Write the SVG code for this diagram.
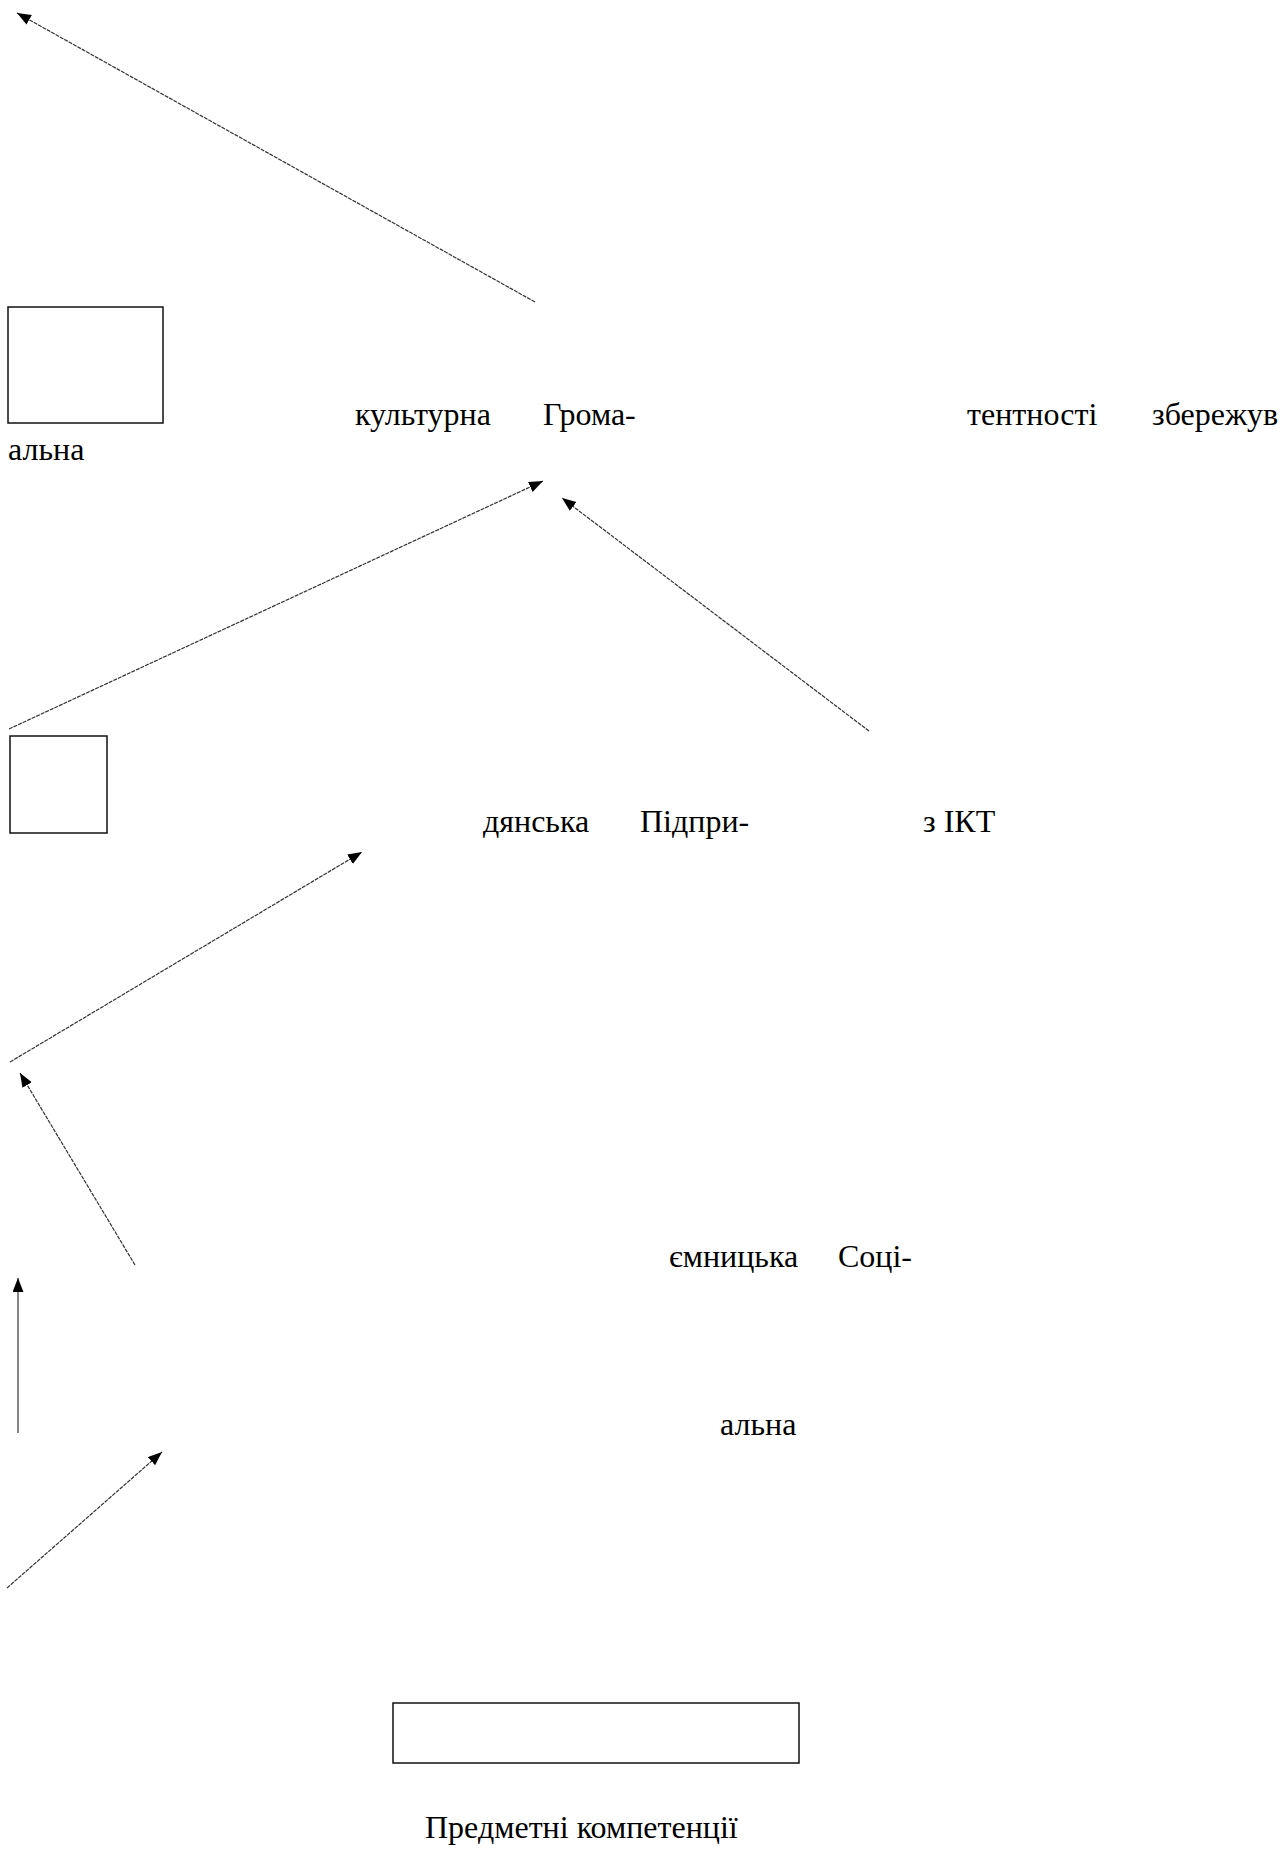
<svg xmlns="http://www.w3.org/2000/svg" width="1287" height="1854" viewBox="0 0 1287 1854">
<style>
.box{fill:#fff;stroke:#111;stroke-width:1.5}
.lbl{font-family:"Liberation Serif","Times New Roman",serif;font-size:32px;fill:#000}
.con{stroke:#333;stroke-width:1.2;stroke-dasharray:4 1;fill:none;marker-end:url(#ah)}
.solid{stroke-dasharray:none}
</style>
<defs>
<marker id="ah" markerUnits="userSpaceOnUse" markerWidth="15" markerHeight="12" refX="14" refY="5.5" orient="auto">
<path d="M0,0 L14,5.5 L0,11 z" fill="#000"/>
</marker>
</defs>
<rect width="1287" height="1854" fill="#fff"/>
<g id="connectors">
<line class="con" x1="535" y1="302" x2="17" y2="13"/>
<line class="con" x1="9" y1="729" x2="543" y2="481"/>
<line class="con" x1="869" y1="731" x2="562" y2="498"/>
<line class="con" x1="10" y1="1062" x2="362" y2="852"/>
<line class="con" x1="135" y1="1265" x2="20" y2="1073"/>
<line class="con solid" x1="18" y1="1433" x2="18" y2="1278"/>
<line class="con" x1="7" y1="1588" x2="162" y2="1452"/>
</g>
<g id="node-box1"><rect class="box" x="8" y="307" width="155" height="116"/></g>
<g id="node-box2"><rect class="box" x="10" y="736" width="97" height="97"/></g>
<g id="node-box3"><rect class="box" x="393" y="1703" width="406" height="60"/></g>
<g id="labels">
<text class="lbl" x="355" y="425">культурна</text>
<text class="lbl" x="543" y="425">Грома-</text>
<text class="lbl" x="967" y="425">тентності</text>
<text class="lbl" x="1152" y="425">збережув</text>
<text class="lbl" x="8" y="460">альна</text>
<text class="lbl" x="483" y="832">дянська</text>
<text class="lbl" x="640" y="832">Підпри-</text>
<text class="lbl" x="923" y="832">з ІКТ</text>
<text class="lbl" x="669" y="1267">ємницька</text>
<text class="lbl" x="838" y="1267">Соці-</text>
<text class="lbl" x="720" y="1435">альна</text>
<text class="lbl" x="425" y="1838">Предметні компетенції</text>
</g>
</svg>
